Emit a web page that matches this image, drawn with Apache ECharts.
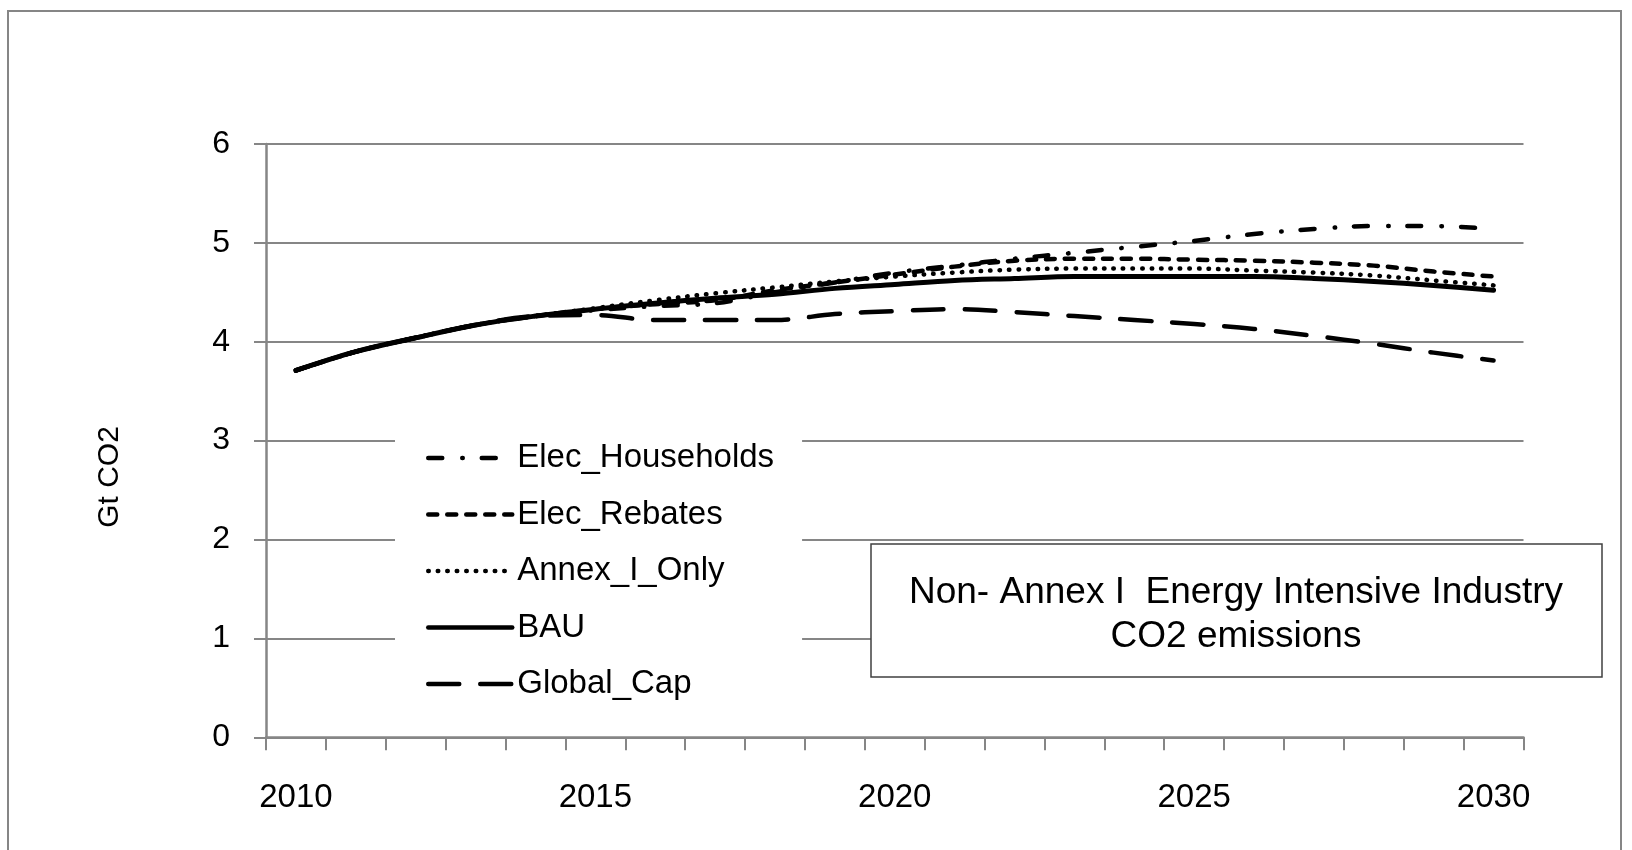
<!DOCTYPE html>
<html>
<head>
<meta charset="utf-8">
<script src="https://cdn.jsdelivr.net/npm/echarts@6/dist/echarts.min.js"></script>
<style>
html,body{margin:0;padding:0;background:#fff;}
#chart{width:1632px;height:850px;}
</style>
</head>
<body>
<div id="chart"></div>
<script>
const years = ['2010','2011','2012','2013','2014','2015','2016','2017','2018','2019','2020','2021','2022','2023','2024','2025','2026','2027','2028','2029','2030'];
const elecHouseholds = [3.71,3.90,4.04,4.17,4.26,4.32,4.36,4.39,4.50,4.60,4.70,4.77,4.84,4.90,4.96,5.02,5.09,5.14,5.17,5.17,5.14];
const elecRebates    = [3.71,3.90,4.04,4.17,4.26,4.33,4.38,4.42,4.52,4.60,4.68,4.76,4.82,4.84,4.84,4.83,4.82,4.80,4.77,4.71,4.66];
const annexIOnly     = [3.71,3.90,4.04,4.17,4.26,4.34,4.42,4.49,4.55,4.61,4.66,4.70,4.73,4.74,4.74,4.74,4.72,4.70,4.67,4.62,4.57];
const bau            = [3.71,3.90,4.04,4.17,4.26,4.33,4.39,4.44,4.48,4.54,4.58,4.62,4.64,4.66,4.66,4.66,4.66,4.64,4.61,4.57,4.52];
const globalCap      = [3.71,3.90,4.04,4.17,4.26,4.27,4.22,4.22,4.22,4.28,4.31,4.33,4.30,4.26,4.22,4.18,4.13,4.06,3.98,3.89,3.81];
const yTicks = [0,1,2,3,4,5,6];
const titleLines = ['Non- Annex I  Energy Intensive Industry', 'CO2 emissions'];
const yAxisName = 'Gt CO2';

const chart = echarts.init(document.getElementById('chart'));
const FONT = 'Liberation Sans';
const GRAY = '#868686';
function mk(name, data, type, width, z) {
  return {
    name: name, type: 'line', data: data, symbol: 'none', showSymbol: false, smooth: 0.35, z: z,
    itemStyle: { color: '#000' },
    lineStyle: { color: '#000', width: width, type: type, cap: 'round', join: 'round' }
  };
}
chart.setOption({
  animation: false,
  backgroundColor: '#fff',
  color: ['#000'],
  grid: { left: 266, right: 108.5, top: 144, bottom: 112.7, containLabel: false },
  xAxis: {
    type: 'category', data: years, boundaryGap: true,
    axisLine: { lineStyle: { color: GRAY, width: 2.5 } },
    axisTick: { show: true, interval: 0, length: 13, lineStyle: { color: GRAY, width: 2 } },
    axisLabel: { interval: 4, margin: 44, color: '#000', fontFamily: FONT, fontSize: 33 },
    splitLine: { show: false }
  },
  yAxis: {
    type: 'value', min: yTicks[0], max: yTicks[yTicks.length - 1], interval: 1,
    axisLine: { show: true, lineStyle: { color: GRAY, width: 2.5 } },
    axisTick: { show: true, length: 12, lineStyle: { color: GRAY, width: 2 } },
    axisLabel: { margin: 36, color: '#000', fontFamily: FONT, fontSize: 32 },
    splitLine: { show: true, lineStyle: { color: GRAY, width: 2 } }
  },
  legend: {
    orient: 'vertical', left: 395, top: 408,
    padding: [30, 28, 28, 31],
    backgroundColor: '#fff',
    itemWidth: 84, itemHeight: 14, itemGap: 16.5,
    itemStyle: { opacity: 0 },
    lineStyle: { width: 4.5 },
    textStyle: { fontFamily: FONT, fontSize: 33, color: '#000', lineHeight: 40 },
    data: ['Elec_Households', 'Elec_Rebates', 'Annex_I_Only', 'BAU', 'Global_Cap']
  },
  series: [
    mk('Global_Cap', globalCap, [31, 21], 4.5, 2),
    mk('Elec_Households', elecHouseholds, [14, 20, 0.5, 19], 4.5, 3),
    mk('Elec_Rebates', elecRebates, [9, 10], 4.5, 4),
    mk('Annex_I_Only', annexIOnly, [0.5, 9], 4.5, 5),
    mk('BAU', bau, 'solid', 5, 6)
  ],
  graphic: [
    { type: 'rect', z: 1, silent: true, shape: { x: 8, y: 11, width: 1613, height: 900 },
      style: { fill: 'none', stroke: GRAY, lineWidth: 2 } },
    { type: 'rect', z: 100, silent: true, shape: { x: 871, y: 544, width: 731, height: 133 },
      style: { fill: '#fff', stroke: '#404040', lineWidth: 1.5 } },
    { type: 'text', z: 101, silent: true, x: 1236, y: 593,
      style: { text: titleLines[0], fill: '#000', font: '37px "Liberation Sans"', textAlign: 'center', textVerticalAlign: 'middle' } },
    { type: 'text', z: 101, silent: true, x: 1236, y: 637,
      style: { text: titleLines[1], fill: '#000', font: '37px "Liberation Sans"', textAlign: 'center', textVerticalAlign: 'middle' } },
    { type: 'text', z: 101, silent: true, x: 110, y: 477, rotation: Math.PI / 2,
      style: { text: yAxisName, fill: '#000', font: '30px "Liberation Sans"', textAlign: 'center', textVerticalAlign: 'middle' } }
  ]
});
</script>
</body>
</html>
